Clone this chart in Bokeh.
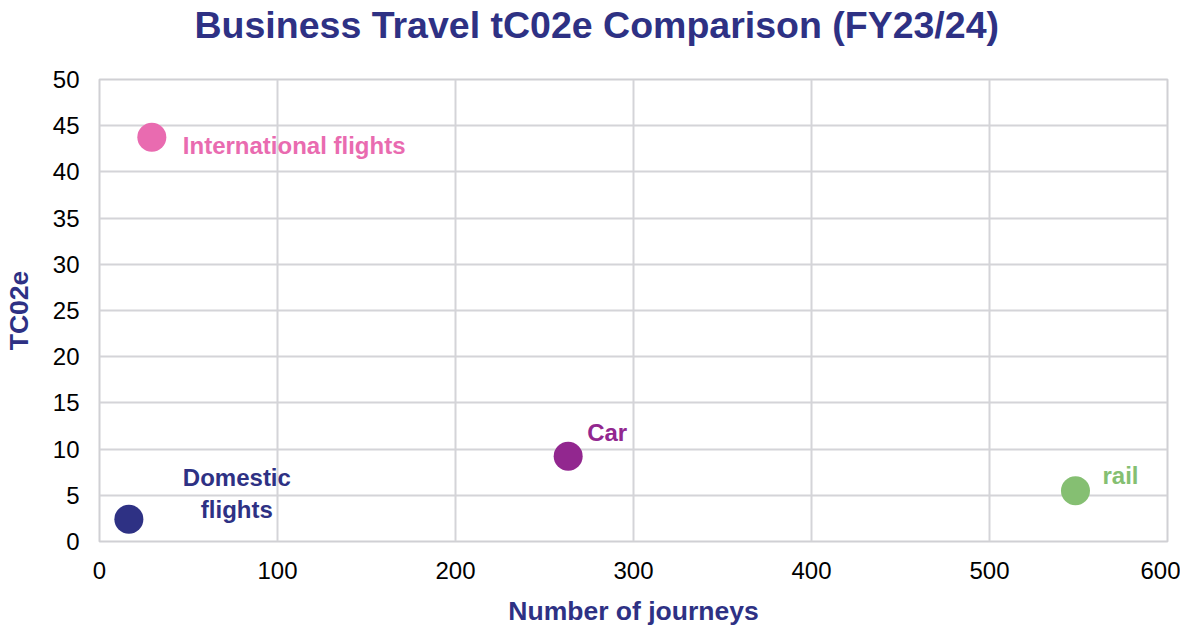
from bokeh.plotting import figure
from bokeh.models import ColumnDataSource, FixedTicker, Range1d, Title
from bokeh.core.properties import value
from bokeh.embed import file_html
from bokeh.resources import INLINE

# ---- data ----
categories = ["Domestic flights", "International flights", "Car", "rail"]
journeys = [16.5, 29.4, 263.3, 548.3]
tco2e = [2.4, 43.75, 9.23, 5.48]
point_colors = ["#2E3184", "#E96BB0", "#92278F", "#85BF72"]
label_texts = ["Domestic\nflights", "International flights", "Car", "rail"]
x_ticks = [0, 100, 200, 300, 400, 500, 600]
y_ticks = [0, 5, 10, 15, 20, 25, 30, 35, 40, 45, 50]
title_text = "Business Travel tC02e Comparison (FY23/24)"

# label placement (screen offsets)
label_dx = [108, 31, 19, 27]
label_dy = [-26, 8, -24, -15]
label_align = ["center", "left", "left", "left"]

NAVY = "#2E3184"
FONT = "Liberation Sans"

src = ColumnDataSource(dict(
    cat=categories, x=journeys, y=tco2e, color=point_colors,
    label=label_texts, dx=label_dx, dy=label_dy, align=label_align,
))

p = figure(
    width=1180, height=629,
    x_range=Range1d(0, 600), y_range=Range1d(0, 50),
    output_backend="svg", toolbar_location=None,
    min_border_left=92, min_border_right=13, min_border_top=79, min_border_bottom=88,
    title=title_text,
)
p.background_fill_color = "white"
p.border_fill_color = "white"

p.title.text_font = FONT
p.title.text_font_size = "37.5px"
p.title.text_font_style = "bold"
p.title.text_color = NAVY
p.title.align = "left"
p.title.offset = 95
p.title.vertical_align = "top"
p.title.standoff = 4

# invisible spacer between title and frame
p.add_layout(Title(text=" ", text_font_size="1px", standoff=27,
                   text_color="white"), "above")

p.outline_line_color = "#D0D0D4"
p.outline_line_width = 2

for ax in (p.xaxis[0], p.yaxis[0]):
    ax.axis_line_color = None
    ax.major_tick_line_color = None
    ax.minor_tick_line_color = None
    ax.major_label_text_font = FONT
    ax.major_label_text_font_size = "24px"
    ax.major_label_text_color = "#000000"
    ax.axis_label_text_font = FONT
    ax.axis_label_text_font_size = "26.5px"
    ax.axis_label_text_font_style = "bold"
    ax.axis_label_text_color = NAVY

p.xaxis.ticker = FixedTicker(ticks=x_ticks)
p.yaxis.ticker = FixedTicker(ticks=y_ticks)
p.xaxis.axis_label = "Number of journeys"
p.yaxis.axis_label = "TC02e"
p.xaxis.major_label_standoff = 14
p.yaxis.major_label_standoff = 14
p.xaxis.axis_label_standoff = 14
p.yaxis.axis_label_standoff = 16

p.xgrid.grid_line_color = "#D4D4D8"
p.ygrid.grid_line_color = "#D4D4D8"
p.xgrid.grid_line_width = 2
p.ygrid.grid_line_width = 2
p.xgrid.ticker = FixedTicker(ticks=x_ticks)
p.ygrid.ticker = FixedTicker(ticks=y_ticks)

p.scatter("x", "y", source=src, size=29, fill_color="color", line_color=None)

p.text("x", "y", text="label", source=src,
       x_offset="dx", y_offset="dy", text_align="align",
       text_baseline="middle", text_color="color",
       text_font=value(FONT), text_font_size="24px", text_font_style="bold",
       text_line_height=1.2)

open("out.html", "w").write(file_html(p, INLINE))
